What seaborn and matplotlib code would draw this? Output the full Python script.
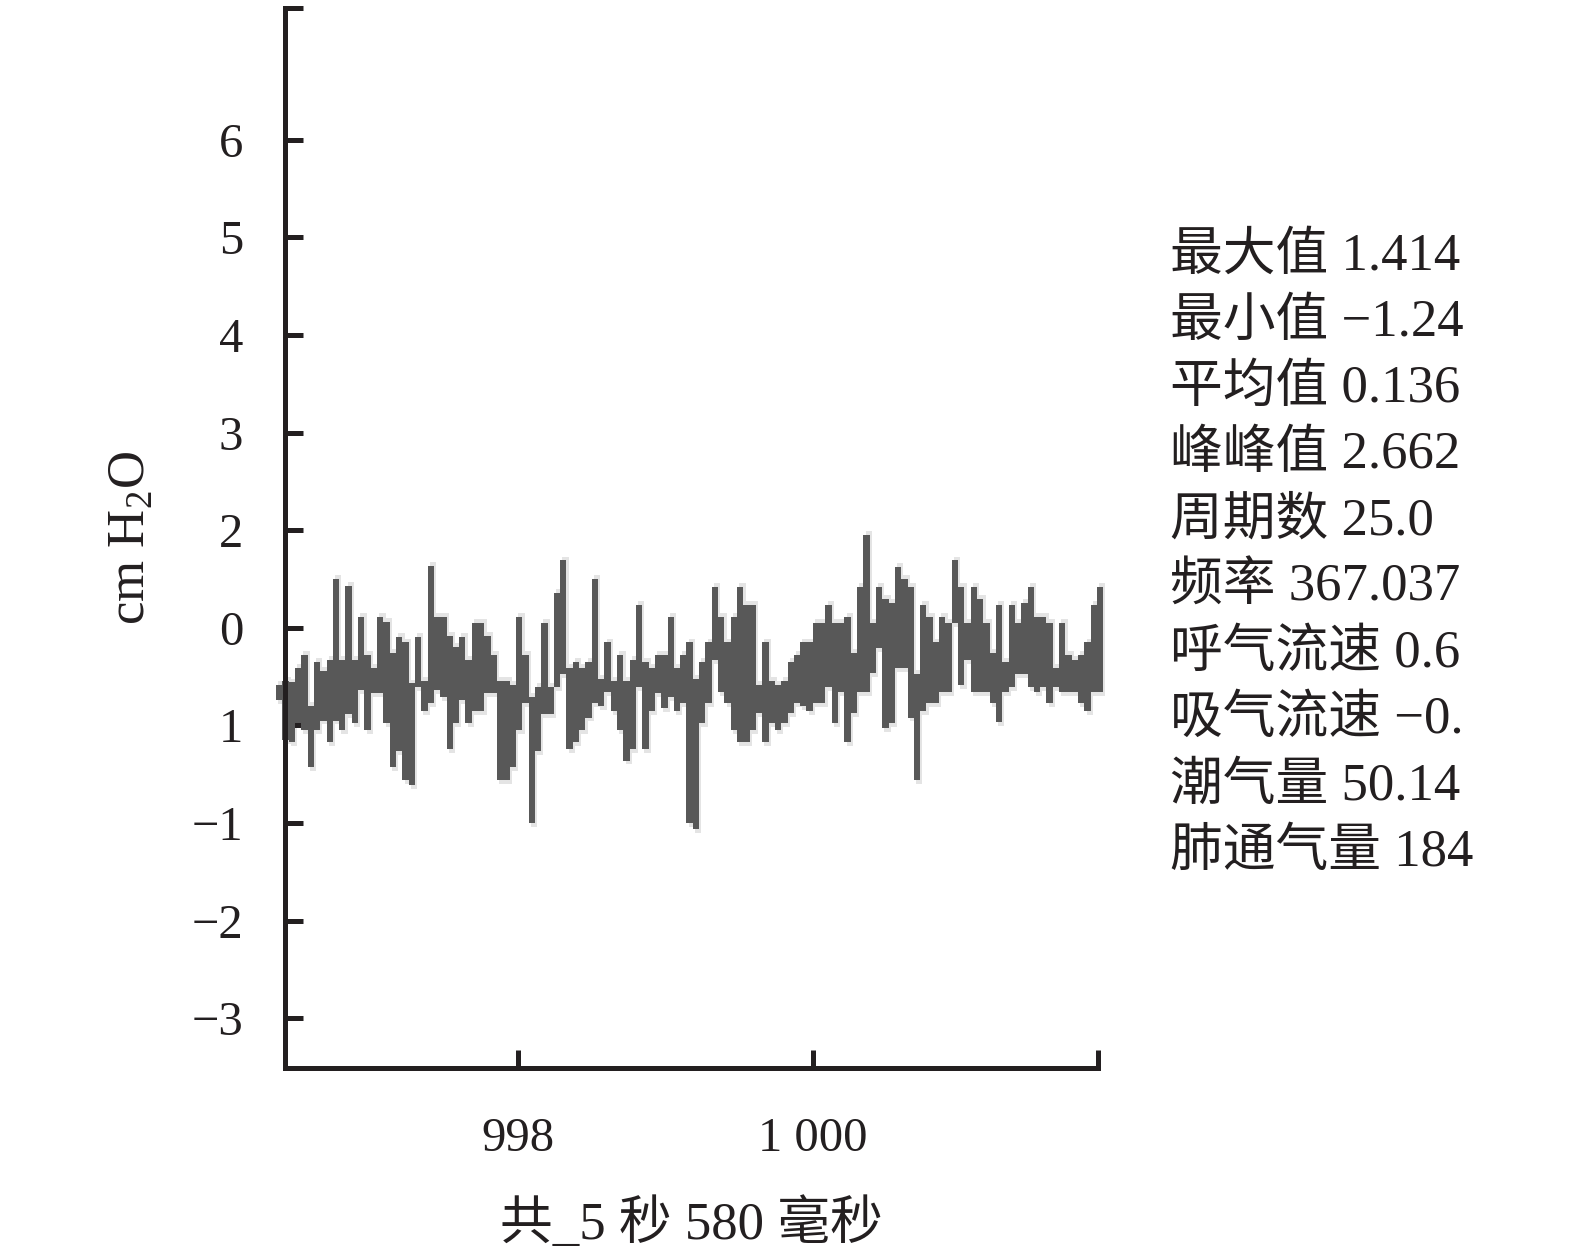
import numpy as np
import pandas as pd
import seaborn as sns
import matplotlib.pyplot as plt

# pressure trace: upper / lower envelope per sample (cm H2O)
hi = [0.41, 0.46, 0.44, 0.59, 0.72, 0.20, 0.65, 0.56, 0.67, 1.50,
      0.67, 1.43, 0.67, 1.11, 0.72, 0.59, 1.11, 1.06, 0.74, 0.91,
      0.85, 0.43, 0.91, 0.46, 1.63, 1.11, 1.11, 0.92, 0.80, 0.91,
      0.67, 1.05, 1.05, 0.92, 0.72, 0.46, 0.46, 0.41, 1.11, 0.72,
      0.29, 0.39, 1.05, 0.39, 1.36, 1.69, 0.59, 0.65, 0.59, 0.65,
      1.50, 0.48, 0.85, 0.46, 0.72, 0.46, 0.67, 1.23, 0.65, 0.59,
      0.72, 0.72, 1.11, 0.59, 0.72, 0.85, 0.48, 0.65, 0.85, 1.42,
      1.11, 0.85, 1.11, 1.42, 1.23, 1.23, 0.41, 0.85, 0.46, 0.41,
      0.46, 0.65, 0.72, 0.85, 0.85, 1.05, 1.05, 1.23, 1.05, 1.05,
      1.11, 0.74, 1.42, 1.95, 1.05, 1.42, 1.30, 1.25, 1.62, 1.50,
      1.42, 0.53, 1.23, 1.11, 0.85, 1.11, 1.05, 1.69, 1.42, 1.05,
      1.42, 1.30, 1.05, 0.74, 1.23, 0.65, 1.23, 1.05, 1.25, 1.42,
      1.11, 1.11, 1.05, 0.59, 1.05, 0.72, 0.67, 0.72, 0.85, 1.23,
      1.42]
lo = [0.26, -0.15, -0.17, 0.02, -0.05, -0.43, -0.05, 0.05, -0.17, 0.05,
      -0.05, 0.12, 0.02, 0.36, -0.05, 0.33, 0.33, 0.02, -0.43, -0.26,
      -0.56, -0.61, 0.39, 0.15, 0.23, 0.36, 0.29, -0.24, 0.02, 0.26,
      0.02, 0.15, 0.15, 0.33, 0.33, -0.56, -0.56, -0.43, -0.05, 0.23,
      -1.00, -0.26, 0.12, 0.12, 0.39, 0.53, -0.24, -0.17, -0.05, 0.08,
      0.23, 0.20, 0.34, 0.15, -0.05, -0.36, -0.24, 0.39, -0.24, 0.15,
      0.33, 0.18, 0.29, 0.15, 0.23, -1.00, -1.06, 0.02, 0.23, 0.67,
      0.34, 0.23, -0.05, -0.17, -0.17, -0.05, 0.13, -0.17, 0.02, -0.05,
      0.02, 0.13, 0.23, 0.20, 0.15, 0.23, 0.23, 0.39, 0.02, 0.34,
      -0.17, 0.13, 0.34, 0.34, 0.54, 0.79, -0.03, 0.02, 0.59, 0.59,
      0.08, -0.56, 0.15, 0.23, 0.23, 0.34, 0.34, 1.05, 0.41, 0.67,
      0.34, 0.34, 0.34, 0.23, 0.03, 0.34, 0.39, 0.53, 0.53, 0.39,
      0.34, 0.39, 0.23, 0.39, 0.34, 0.34, 0.34, 0.23, 0.15, 0.34,
      0.34]
t_start = 996.359   # s, first sample
dt = 0.0428         # s, sample interval

x_lim = (996.42, 1001.93)
y_lim = (-3.51, 7.35)
y_pos = [-3, -2, -1, 0, 1, 2, 3, 4, 5, 6]
y_lab = ['−3', '−2', '−1', '1', '0', '2', '3', '4', '5', '6']
x_pos = [998, 1000]
x_lab = ['998', '1 000']

stat_names = ['最大值', '最小值', '平均值', '峰峰值', '周期数', '频率',
              '呼气流速', '吸气流速', '潮气量', '肺通气量']
stat_vals = ['1.414', '−1.24', '0.136', '2.662', '25.0', '367.037',
             '0.6', '−0.', '50.14', '184']

# step edges: one extra point so the last sample keeps its width
df = pd.DataFrame({'t': t_start + dt * np.arange(len(hi) + 1),
                   'hi': hi + hi[-1:], 'lo': lo + lo[-1:]})

sns.set_theme(style='ticks')
plt.rcParams['font.family'] = ['Liberation Serif', 'Noto Sans CJK SC', 'DejaVu Sans']
plt.rcParams['mathtext.fontset'] = 'custom'
plt.rcParams['mathtext.rm'] = 'Liberation Serif'
ink = '#231f20'

fig = plt.figure(figsize=(15.75, 12.53), dpi=100)
ax = fig.add_axes([285 / 1575, 1 - 1068 / 1253, (1098 - 285) / 1575, (1068 - 8) / 1253])

# faint print ghost behind the trace
ax.fill_between(df['t'] + dt * 0.35, df['lo'] - 0.04, df['hi'] + 0.04, step='post',
                color='#e4e4e4', linewidth=0, clip_on=False, zorder=0.5)
ax.fill_between(df['t'], df['lo'], df['hi'], step='post',
                color='#585858', linewidth=0, clip_on=False, zorder=1)

ax.set_xlim(*x_lim)
ax.set_ylim(*y_lim)
ax.set_yticks(y_pos + [y_lim[1]], y_lab + [''])
ax.set_xticks(x_pos + [x_lim[1]], x_lab + [''])
ax.tick_params(direction='in', length=13, width=3.6, color=ink, labelcolor=ink,
               labelsize=35)
ax.tick_params(axis='y', pad=30)
ax.tick_params(axis='x', pad=35)
sns.despine(ax=ax)
for s in ['left', 'bottom']:
    ax.spines[s].set_linewidth(3.6)
    ax.spines[s].set_color(ink)
    ax.spines[s].set_zorder(3)

ax.set_ylabel('cm H$_2$O', fontsize=38, color=ink, labelpad=26)
ax.set_xlabel('共_5 秒 580 毫秒', fontsize=38, color=ink, labelpad=27)

for i, (n, v) in enumerate(zip(stat_names, stat_vals)):
    fig.text(1170 / 1575, 1 - (256 + 66.3 * i) / 1253, n + ' ' + v,
             fontsize=38, color=ink, va='center', ha='left')

fig.savefig('out.png', dpi=100)
